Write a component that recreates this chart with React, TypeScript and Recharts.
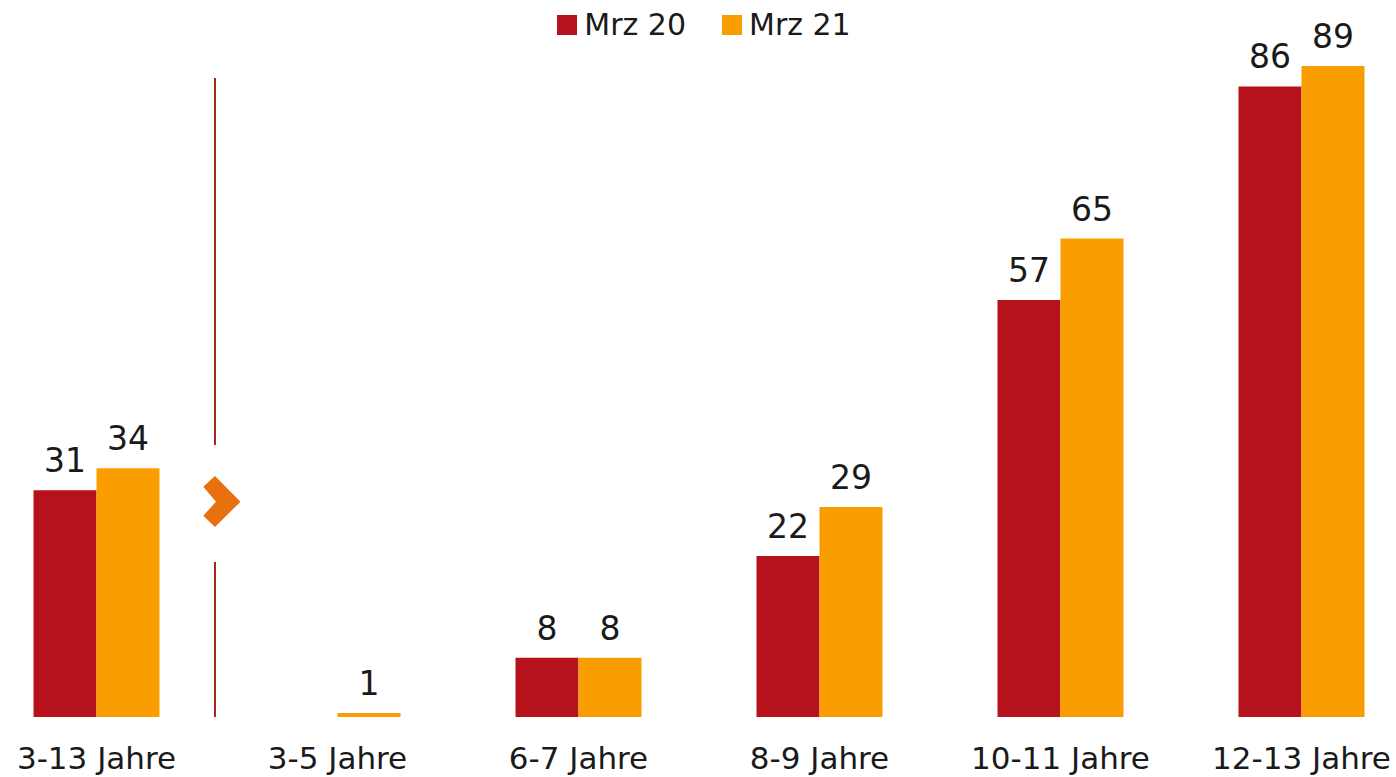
import * as React from 'react';
import { BarChart, Bar, XAxis, YAxis, LabelList } from 'recharts';

const categories = ['3-13 Jahre', '3-5 Jahre', '6-7 Jahre', '8-9 Jahre', '10-11 Jahre', '12-13 Jahre'];
const mrz20 = [31, null, 8.1, 22, 57, 86.2];
const mrz21 = [34, 0.55, 8.1, 28.7, 65.4, 89];
const seriesNames = ['Mrz 20', 'Mrz 21'];
const seriesColors = ['#B5121B', '#F99D00'];

const data = categories.map((name, i) => ({ name, a: mrz20[i], b: mrz21[i] }));

const FONT = '"DejaVu Sans", sans-serif';
const TEXT = '#1a1a1a';

const fmt = (v: any) => (v == null ? '' : String(Math.round(Number(v))));

const Separator = () => (
    <svg width={1396} height={777} style={{ position: 'absolute', left: 0, top: 0, pointerEvents: 'none' }}>
        <line x1={215} y1={78} x2={215} y2={445} stroke="#9E2B12" strokeWidth={2} />
        <line x1={215} y1={562} x2={215} y2={717} stroke="#9E2B12" strokeWidth={2} />
        <polygon
            points="203.3,486.7 215,476 240.5,501.7 215,527 203.3,515.7 216,501.7"
            fill="#E8700E"
        />
    </svg>
);

const TopLegend = () => (
    <div
        style={{
            position: 'absolute',
            top: 8,
            left: 0,
            width: 1408,
            display: 'flex',
            justifyContent: 'center',
            fontFamily: FONT,
            fontSize: 30,
            color: TEXT,
        }}
    >
        {seriesNames.map((n, i) => (
            <div key={n} style={{ display: 'flex', alignItems: 'center', marginRight: i === 0 ? 36 : 0 }}>
                <span style={{ width: 20, height: 20, background: seriesColors[i], display: 'inline-block', marginRight: 7 }} />
                <span style={{ lineHeight: '34px' }}>{n}</span>
            </div>
        ))}
    </div>
);

export default function App() {
    return (
        <div style={{ position: 'fixed', left: 0, top: 0, width: 1396, height: 777, overflow: 'hidden', background: '#fff' }}>
            <div style={{ position: 'absolute', left: -24.5, top: 0 }}>
                <BarChart
                    width={1446}
                    height={777}
                    data={data}
                    margin={{ top: 58.6, right: 0, bottom: 0, left: 0 }}
                    barCategoryGap={57.5}
                    barGap={0}
                >
                    <XAxis
                        dataKey="name"
                        height={60}
                        axisLine={false}
                        tickLine={false}
                        tickSize={0}
                        tickMargin={30}
                        interval={0}
                        tick={{ fontFamily: FONT, fontSize: 31, fill: TEXT }}
                    />
                    <YAxis hide domain={[0, 90]} />
                    <Bar dataKey="a" name={seriesNames[0]} fill={seriesColors[0]} isAnimationActive={false}>
                        <LabelList dataKey="a" position="top" offset={18} formatter={fmt} style={{ fontFamily: FONT, fontSize: 33, fill: TEXT }} />
                    </Bar>
                    <Bar dataKey="b" name={seriesNames[1]} fill={seriesColors[1]} isAnimationActive={false}>
                        <LabelList dataKey="b" position="top" offset={18} formatter={fmt} style={{ fontFamily: FONT, fontSize: 33, fill: TEXT }} />
                    </Bar>
                </BarChart>
            </div>
            <Separator />
            <TopLegend />
        </div>
    );
}
